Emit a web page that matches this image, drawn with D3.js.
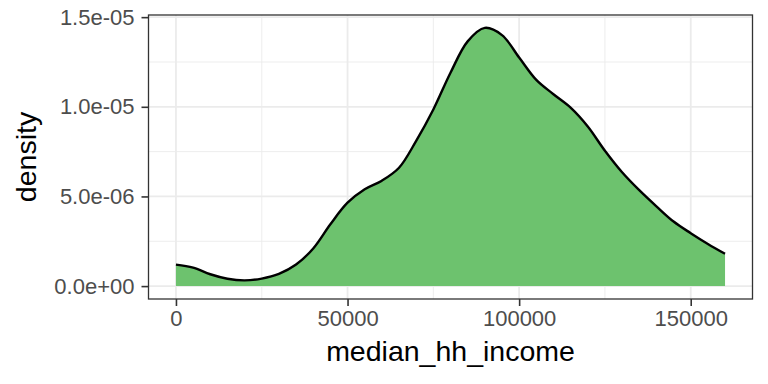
<!DOCTYPE html>
<html>
<head>
<meta charset="utf-8">
<script src="https://cdn.jsdelivr.net/npm/d3@7"></script>
<style>
  body { margin: 0; background: #fff; }
  text { font-family: "Liberation Sans", Arial, sans-serif; }
</style>
</head>
<body>
<div class="chart"></div>
<script>
// density estimate of median household income
var income = [0, 5000, 10000, 15000, 20000, 25000, 30000, 35000, 40000, 45000,
  50000, 55000, 60000, 65000, 70000, 75000, 80000, 85000, 90000, 95000,
  100000, 105000, 110000, 115000, 120000, 125000, 130000, 135000, 140000,
  145000, 150000, 155000, 160000];
var density = [1.20, 1.03, 0.66, 0.41, 0.32, 0.42, 0.68, 1.2, 2.1, 3.45,
  4.65, 5.4, 5.88, 6.6, 8.1, 9.85, 11.9, 13.65, 14.4, 14.0,
  12.75, 11.5, 10.7, 9.95, 8.9, 7.55, 6.35, 5.35, 4.45,
  3.6, 2.95, 2.35, 1.8].map(d => d * 1e-6);

var xTicks = [0, 50000, 100000, 150000];
var xMinor = [25000, 75000, 125000];
var yTicks = [0, 5e-6, 1e-5, 1.5e-5];
var yTickLabels = ["0.0e+00", "5.0e-06", "1.0e-05", "1.5e-05"];
var yMinor = [2.5e-6, 7.5e-6, 1.25e-5];

var svgWidth = 768;
var svgHeight = 384;
var margin = { top: 15, right: 15.5, bottom: 85, left: 148.5 };
var width = svgWidth - margin.left - margin.right;
var height = svgHeight - margin.top - margin.bottom;

var svg = d3.select(".chart")
  .append("svg")
  .attr("width", svgWidth)
  .attr("height", svgHeight);

var chartGroup = svg.append("g")
  .attr("transform", `translate(${margin.left}, ${margin.top})`);

var data = income.map((x, i) => ({ x: x, y: density[i] }));

// ggplot style 5% expansion
var xExt = d3.extent(income);
var xPad = (xExt[1] - xExt[0]) * 0.05;
var xScale = d3.scaleLinear()
  .domain([xExt[0] - xPad, xExt[1] + xPad])
  .range([0, width]);

var yMax = d3.max(density);
var yScale = d3.scaleLinear()
  .domain([-yMax * 0.05, yMax * 1.05])
  .range([height, 0]);

// grid
chartGroup.selectAll(".minorx").data(xMinor).enter().append("line")
  .attr("x1", d => xScale(d)).attr("x2", d => xScale(d))
  .attr("y1", 0).attr("y2", height)
  .attr("stroke", "#EBEBEB").attr("stroke-width", 0.9);
chartGroup.selectAll(".minory").data(yMinor).enter().append("line")
  .attr("y1", d => yScale(d)).attr("y2", d => yScale(d))
  .attr("x1", 0).attr("x2", width)
  .attr("stroke", "#EBEBEB").attr("stroke-width", 0.9);
chartGroup.selectAll(".majorx").data(xTicks).enter().append("line")
  .attr("x1", d => xScale(d)).attr("x2", d => xScale(d))
  .attr("y1", 0).attr("y2", height)
  .attr("stroke", "#EBEBEB").attr("stroke-width", 1.8);
chartGroup.selectAll(".majory").data(yTicks).enter().append("line")
  .attr("y1", d => yScale(d)).attr("y2", d => yScale(d))
  .attr("x1", 0).attr("x2", width)
  .attr("stroke", "#EBEBEB").attr("stroke-width", 1.8);

// density area + outline
var curve = d3.curveCatmullRom.alpha(0.5);
var area = d3.area()
  .x(d => xScale(d.x))
  .y0(yScale(0))
  .y1(d => yScale(d.y))
  .curve(curve);
var line = d3.line()
  .x(d => xScale(d.x))
  .y(d => yScale(d.y))
  .curve(curve);

chartGroup.append("path")
  .datum(data)
  .attr("d", area)
  .attr("fill", "#6DC26E");
chartGroup.append("path")
  .datum(data)
  .attr("d", line)
  .attr("fill", "none")
  .attr("stroke", "black")
  .attr("stroke-width", 2.4)
  .attr("stroke-linejoin", "round");

// panel border
chartGroup.append("rect")
  .attr("x", 0).attr("y", 0)
  .attr("width", width).attr("height", height)
  .attr("fill", "none")
  .attr("stroke", "#333333")
  .attr("stroke-width", 1.3);

// axes
var bottomAxis = d3.axisBottom(xScale)
  .tickValues(xTicks)
  .tickFormat(d3.format("d"))
  .tickSize(7)
  .tickPadding(4);
var leftAxis = d3.axisLeft(yScale)
  .tickValues(yTicks)
  .tickFormat((d, i) => yTickLabels[i])
  .tickSize(7)
  .tickPadding(7);

var gx = chartGroup.append("g")
  .attr("transform", `translate(0, ${height})`)
  .call(bottomAxis);
var gy = chartGroup.append("g")
  .call(leftAxis);

[gx, gy].forEach(function(g) {
  g.select(".domain").remove();
  g.selectAll(".tick line").attr("stroke", "#333333").attr("stroke-width", 1.6);
  g.selectAll(".tick text")
    .attr("fill", "#4D4D4D")
    .style("font-size", "22px")
    .style("font-family", "'Liberation Sans', Arial, sans-serif");
});

// axis titles
chartGroup.append("text")
  .attr("x", width / 2)
  .attr("y", height + 61.5)
  .attr("text-anchor", "middle")
  .style("font-size", "28.5px")
  .attr("fill", "black")
  .text("median_hh_income");

chartGroup.append("text")
  .attr("transform", "rotate(-90)")
  .attr("x", -height / 2)
  .attr("y", 36 - margin.left)
  .attr("text-anchor", "middle")
  .style("font-size", "28.5px")
  .attr("fill", "black")
  .text("density");
</script>
</body>
</html>
